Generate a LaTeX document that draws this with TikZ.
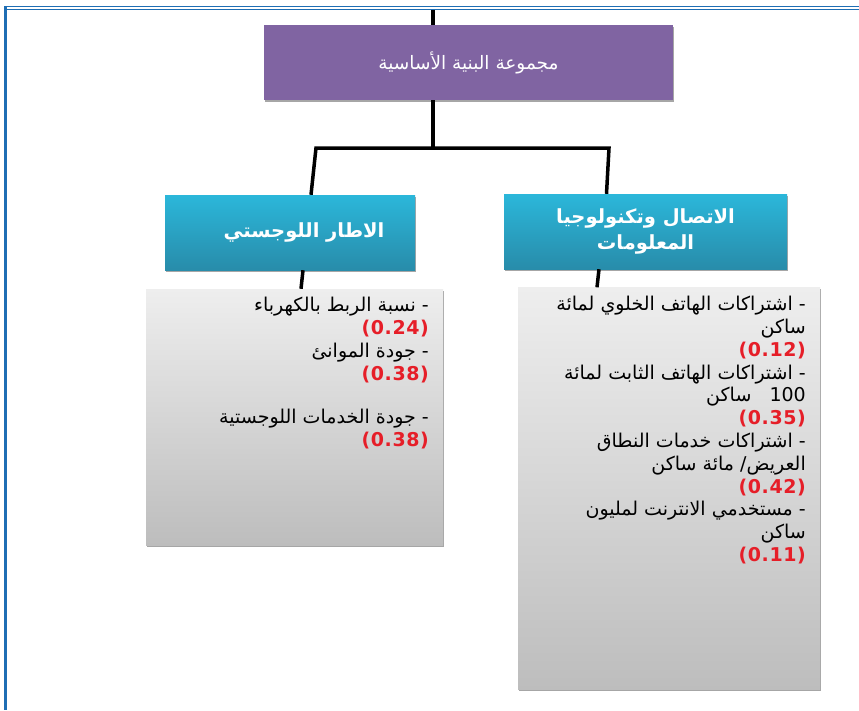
\documentclass[tikz,border=0pt]{standalone}
\usepackage{fontspec}
\usetikzlibrary{shadows}
\TeXXeTstate=1
\newfontfamily\arabicfont[Script=Arabic]{DejaVu Sans}
\newfontfamily\numfont[LetterSpace=3]{DejaVu Sans}
\definecolor{bordercol}{RGB}{31,110,180}
\definecolor{purplebox}{RGB}{128,100,162}
\definecolor{bluetop}{RGB}{43,183,218}
\definecolor{bluebot}{RGB}{40,140,170}
\definecolor{greytop}{RGB}{238,238,238}
\definecolor{greybot}{RGB}{189,189,189}
\definecolor{valred}{RGB}{230,30,40}
\newcommand{\valtxt}[1]{{\numfont\bfseries\fontsize{19}{22.8}\selectfont\color{valred}#1}}
\newcommand{\ar}[1]{\beginR #1\endR}
\begin{document}
\begin{tikzpicture}[x=1pt,y=-1pt,
  conn/.style={line width=3.5pt, black, line join=miter},
  boxshadow/.style={drop shadow={shadow xshift=1.2pt, shadow yshift=-1.5pt, opacity=0.35, fill=black}},
  purplestyle/.style={fill=purplebox, boxshadow, inner sep=0pt, minimum width=409pt, minimum height=75pt,
     text=white, font=\arabicfont\fontsize{18.5}{22}\selectfont},
  bluestyle/.style={top color=bluetop, bottom color=bluebot, boxshadow, inner sep=0pt, minimum height=75pt,
     text=white, align=center, font=\arabicfont\bfseries\fontsize{19.5}{26}\selectfont},
  greystyle/.style={top color=greytop, bottom color=greybot, boxshadow, inner sep=0pt},
  bodytext/.style={align=right, inner sep=0pt, text=black, font=\arabicfont\fontsize{19}{22.8}\selectfont}
]
\useasboundingbox (0,0) rectangle (859,710);
\fill[white] (0,0) rectangle (859,710);
% page border
\draw[bordercol, line width=1pt] (4,6) -- (859,6);
\draw[bordercol, line width=0.8pt] (4,9) -- (859,9);
\draw[bordercol, line width=2.5pt] (5.5,6) -- (5.5,710);

% boxes
\node[purplestyle] (purple) at (468.5,62.5) {\ar{مجموعة البنية الأساسية}};
\node[bluestyle, minimum width=250pt] (lb) at (290,232.5) {\hspace{28pt}\ar{الاطار اللوجستي}};
\node[bluestyle, minimum width=283pt] (rb) at (645.5,231.5) {\ar{الاتصال وتكنولوجيا}\\ \ar{المعلومات}};
\node[greystyle, minimum width=297pt, minimum height=256pt] (lg) at (294.5,417) {};
\node[greystyle, minimum width=302pt, minimum height=402pt] (rg) at (669,488.5) {};

% texts
\node[bodytext, anchor=north east] (lt) at (429,297) {%
\ar{- نسبة الربط بالكهرباء}\\
\valtxt{(0.24)}\\
\ar{- جودة الموانئ}\\
\valtxt{(0.38)}\\[21pt]
\ar{- جودة الخدمات اللوجستية}\\
\valtxt{(0.38)}};

\node[bodytext, anchor=north east] (rt) at (806,296) {%
\ar{- اشتراكات الهاتف الخلوي لمائة}\\
\ar{ساكن}\\
\valtxt{(0.12)}\\
\ar{- اشتراكات الهاتف الثابت لمائة}\\
\ar{\beginL 100\endL\ \ \ ساكن}\\
\valtxt{(0.35)}\\
\ar{- اشتراكات خدمات النطاق}\\
\ar{العريض/ مائة ساكن}\\
\valtxt{(0.42)}\\
\ar{- مستخدمي الانترنت لمليون}\\
\ar{ساكن}\\
\valtxt{(0.11)}};

% connectors
\coordinate (topend) at (433,10);
\coordinate (jc) at (433,148);
\coordinate (jl) at (316,148);
\coordinate (jr) at (609,148);
\draw[conn] (topend) -- (topend |- purple.north);
\draw[conn] (jc |- purple.south) -- (jc);
\draw[conn] ([xshift=21pt]lb.north) -- (jl) -- (jr) -- ([xshift=-39pt]rb.north);
\draw[conn] ([xshift=13pt]lb.south) -- ([xshift=6.5pt]lg.north);
\draw[conn] ([xshift=-46.5pt]rb.south) -- ([xshift=-72pt]rg.north);
\end{tikzpicture}
\end{document}
